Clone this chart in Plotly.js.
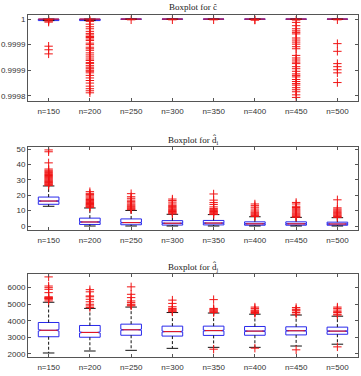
<!DOCTYPE html>
<html>
<head>
<meta charset="utf-8">
<script src="https://cdn.plot.ly/plotly-3.0.1.min.js"></script>
<style>
  html, body { margin: 0; padding: 0; background: #fff; }
  #chart { width: 361px; height: 376px; }
</style>
</head>
<body>
<div id="chart"></div>
<script>
// Sample sizes shown on every x axis
const sizes = ["n=150", "n=200", "n=250", "n=300", "n=350", "n=400", "n=450", "n=500"];

// ---- Panel 1: estimates of c ----
const cQ1 = [0.999997, 0.999997, 0.9999995, 0.9999995, 0.9999995, 0.9999995, 0.9999995, 0.9999995];
const cMedian = [1, 1, 1, 1, 1, 1, 1, 1];
const cQ3 = [1, 1, 1, 1, 1, 1, 1, 1];
const cLowWhisker = [0.999997, 0.999997, 0.9999995, 0.9999995, 0.9999995, 0.9999995, 0.9999995, 0.9999995];
const cHighWhisker = [1, 1, 1, 1, 1, 1, 1, 1];
const cOutliers = [
  [0.999999, 0.999998, 0.999996, 0.999994, 0.999947, 0.99994, 0.999932],
  [0.999998, 0.9999955, 0.99999, 0.999985, 0.999981, 0.999976, 0.999972, 0.999969, 0.999966, 0.999964,
   0.999961, 0.999958, 0.999953, 0.99995, 0.999945, 0.999942, 0.999939, 0.999934, 0.99993, 0.999926,
   0.999922, 0.999919, 0.999915, 0.999913, 0.999909, 0.999906, 0.999903, 0.9999, 0.999898, 0.999895,
   0.99989, 0.999885, 0.99988, 0.999875, 0.999869, 0.999864, 0.99986, 0.999856],
  [0.9999985],
  [0.9999985],
  [0.9999985],
  [0.9999985, 0.999998],
  [0.999998, 0.9999935, 0.999987, 0.999981, 0.999977, 0.999974, 0.999971, 0.999963, 0.999959, 0.999955,
   0.999951, 0.999946, 0.999942, 0.999929, 0.999924, 0.99992, 0.999916, 0.999913, 0.999907, 0.999903,
   0.999898, 0.999893, 0.99989, 0.999887, 0.999882, 0.999878, 0.999874, 0.999871, 0.999866, 0.999862,
   0.999858, 0.999852, 0.999847],
  [0.9999985, 0.999952, 0.999937, 0.999913, 0.999907, 0.999901, 0.999895, 0.999876]
];

// ---- Panel 2: estimates of d_i ----
const d1Q1 = [14.1, 1.0, 0.8, 0.6, 0.7, 0.5, 0.5, 0.5];
const d1Median = [16.2, 2.6, 2.2, 1.8, 1.9, 1.4, 1.4, 1.3];
const d1Q3 = [18.8, 5.1, 4.6, 3.5, 3.6, 2.7, 2.7, 2.5];
const d1LowWhisker = [12.8, 0, 0, 0, 0, 0, 0, 0];
const d1HighWhisker = [26.0, 11.7, 10.1, 7.6, 7.4, 6.0, 5.6, 5.4];
const d1Outliers = [
  [49.4, 48.2, 41.0, 37.0, 36.2, 35.5, 34.8, 34.0, 33.4, 32.8, 32.2, 31.6, 31.0, 30.4, 29.8, 29.3, 28.8, 28.3, 27.8, 27.3, 26.8, 26.4],
  [22.3, 21.2, 20.4, 19.6, 18.8, 18.0, 17.2, 16.5, 15.8, 15.2, 14.6, 14.0, 13.5, 13.0, 12.5, 12.1],
  [21.0, 19.0, 18.0, 16.8, 15.8, 15.0, 14.2, 13.5, 12.8, 12.2, 11.6, 11.1, 10.6],
  [17.5, 16.5, 15.5, 14.3, 13.4, 12.6, 11.9, 11.2, 10.6, 10.0, 9.4, 8.9, 8.4, 7.9],
  [20.8, 16.8, 15.2, 14.0, 12.4, 11.3, 10.6, 10.0, 9.4, 8.9, 8.4, 7.9, 7.5],
  [14.3, 13.2, 12.2, 11.0, 9.8, 9.0, 8.4, 7.8, 7.2, 6.7, 6.2],
  [15.3, 14.3, 12.8, 12.0, 11.2, 10.5, 9.8, 9.1, 8.4, 7.8, 7.2, 6.6, 6.1, 5.7],
  [17.0, 11.8, 11.0, 10.3, 9.6, 8.9, 8.3, 7.7, 7.1, 6.6, 6.1, 5.6]
];

// ---- Panel 3: estimates of d_j ----
const d2Q1 = [3040, 3010, 3130, 3080, 3120, 3130, 3150, 3190];
const d2Median = [3430, 3300, 3460, 3350, 3410, 3380, 3400, 3380];
const d2Q3 = [3900, 3720, 3800, 3680, 3680, 3660, 3640, 3620];
const d2LowWhisker = [2060, 2180, 2220, 2340, 2400, 2400, 2480, 2590];
const d2HighWhisker = [5120, 4750, 4830, 4500, 4470, 4400, 4350, 4280];
const d2Outliers = [
  [6650, 6100, 6000, 5900, 5700, 5450, 5400, 5370, 5350, 5300, 5200],
  [5880, 5750, 5500, 5450, 5300, 5150, 5000, 4900, 4800],
  [6050, 5600, 5400, 5200, 5100, 5000, 4950, 4900],
  [5250, 5050, 4850, 4750, 4700, 4650, 4600, 4550],
  [5280, 4750, 4700, 4650, 4600, 4550, 4500, 2290],
  [4830, 4750, 4650, 4600, 4550, 4500, 4450, 2350],
  [4800, 4700, 4650, 4600, 4500, 4400, 2250],
  [4830, 4750, 4650, 4550, 4500, 4400, 4350, 2430]
];

const sampleCount = 1000;   // replicates per box, used for the notch half-height
const positions = sizes.map((_, i) => i + 1);
const boxWidth = 0.5;
const capHalf = 0.14;
const notchFrac = 0.15;

const BLUE = "rgb(40,40,235)";
const RED = "rgb(240,20,20)";
const BLACK = "#111";

function panelTraces(ax, q1, med, q3, lo, hi, outliers, notched) {
  const xa = "x" + (ax === 1 ? "" : ax);
  const ya = "y" + (ax === 1 ? "" : ax);
  const traces = [];

  // dashed whiskers
  const wx = [], wy = [];
  positions.forEach((p, i) => {
    wx.push(p, p, null, p, p, null);
    wy.push(q3[i], hi[i], null, q1[i], lo[i], null);
  });
  traces.push({
    type: "scatter", mode: "lines", xaxis: xa, yaxis: ya, x: wx, y: wy,
    line: { color: BLACK, width: 1, dash: "3px,2px" }, hoverinfo: "skip", showlegend: false
  });

  // whisker caps (drawn under the box so collapsed whiskers hide behind it)
  const cx = [], cy = [];
  positions.forEach((p, i) => {
    cx.push(p - capHalf, p + capHalf, null, p - capHalf, p + capHalf, null);
    cy.push(hi[i], hi[i], null, lo[i], lo[i], null);
  });
  traces.push({
    type: "scatter", mode: "lines", xaxis: xa, yaxis: ya, x: cx, y: cy,
    line: { color: BLACK, width: 1 }, hoverinfo: "skip", showlegend: false
  });

  // box outline only (whiskers drawn separately in MATLAB style)
  const box = {
    type: "box", xaxis: xa, yaxis: ya,
    x: positions, q1: q1, median: med, q3: q3,
    lowerfence: q1, upperfence: q3,
    width: boxWidth, boxpoints: false,
    line: { color: BLUE, width: 1 },
    fillcolor: "rgba(0,0,0,0)",
    whiskerwidth: 0, hoverinfo: "skip", showlegend: false
  };
  if (notched) {
    box.notched = true;
    box.notchwidth = notchFrac;
    box.notchspan = q1.map((v, i) => 1.57 * (q3[i] - v) / Math.sqrt(sampleCount));
  }
  traces.push(box);

  // red median lines
  const mh = boxWidth / 2 * (notched ? 1 - notchFrac : 1);
  const mx = [], my = [];
  positions.forEach((p, i) => {
    mx.push(p - mh, p + mh, null);
    my.push(med[i], med[i], null);
  });
  traces.push({
    type: "scatter", mode: "lines", xaxis: xa, yaxis: ya, x: mx, y: my,
    line: { color: RED, width: 1 }, hoverinfo: "skip", showlegend: false
  });

  // outliers as red plus signs
  const ox = [], oy = [];
  outliers.forEach((arr, i) => arr.forEach(v => { ox.push(positions[i]); oy.push(v); }));
  traces.push({
    type: "scatter", mode: "markers", xaxis: xa, yaxis: ya, x: ox, y: oy,
    marker: { symbol: "cross-thin", size: 6, line: { color: RED, width: 1 } },
    hoverinfo: "skip", showlegend: false
  });
  return traces;
}

const data = [].concat(
  panelTraces(1, cQ1, cMedian, cQ3, cLowWhisker, cHighWhisker, cOutliers, false),
  panelTraces(2, d1Q1, d1Median, d1Q3, d1LowWhisker, d1HighWhisker, d1Outliers, true),
  panelTraces(3, d2Q1, d2Median, d2Q3, d2LowWhisker, d2HighWhisker, d2Outliers, true)
);

const H = 376;
const tickFont = { family: "Liberation Sans, Arial, sans-serif", size: 8, color: "#333" };
const frame = {
  showline: true, mirror: "ticks", linecolor: "#555", linewidth: 1,
  ticks: "inside", ticklen: 3, tickcolor: "#555", tickwidth: 1,
  showgrid: false, zeroline: false, tickfont: tickFont, fixedrange: true
};
function xAxis(anchor) {
  return Object.assign({}, frame, {
    anchor: anchor, range: [0.5, 8.5], tickmode: "array",
    tickvals: positions, ticktext: sizes, ticklabelstandoff: 2
  });
}
function dom(top, bottom) { return [1 - bottom / H, 1 - top / H]; }

const layout = {
  width: 361, height: 376,
  margin: { l: 28, r: 3, t: 0, b: 0 },
  paper_bgcolor: "#fff", plot_bgcolor: "#fff",
  showlegend: false,
  xaxis: xAxis("y"),
  xaxis2: xAxis("y2"),
  xaxis3: xAxis("y3"),
  yaxis: Object.assign({}, frame, {
    domain: dom(14.7, 101), anchor: "x", range: [0.99984, 1.0000085],
    tickmode: "array", tickvals: [0.99985, 0.9999, 0.99995, 1],
    ticktext: ["0.9998", "0.9999", "0.9999", "1"]
  }),
  yaxis2: Object.assign({}, frame, {
    domain: dom(146.7, 230), anchor: "x2", range: [-2.6, 51.5],
    tickmode: "array", tickvals: [0, 10, 20, 30, 40, 50]
  }),
  yaxis3: Object.assign({}, frame, {
    domain: dom(274, 357.3), anchor: "x3", range: [1800, 6825],
    tickmode: "array", tickvals: [2000, 3000, 4000, 5000, 6000]
  }),
  annotations: [
    ["Boxplot for ĉ", 7],
    ["Boxplot for d\u0302<sub>i</sub>", 139.5],
    ["Boxplot for d\u0302<sub>j</sub>", 266.5]
  ].map(([t, y]) => ({
    text: t, xref: "paper", yref: "paper", x: 0.5, y: 1 - y / H,
    xanchor: "center", yanchor: "middle", showarrow: false,
    font: { family: "Liberation Serif, Times New Roman, serif", size: 9, color: "#222" }
  }))
};

Plotly.newPlot("chart", data, layout, { displayModeBar: false, staticPlot: true });
</script>
</body>
</html>
